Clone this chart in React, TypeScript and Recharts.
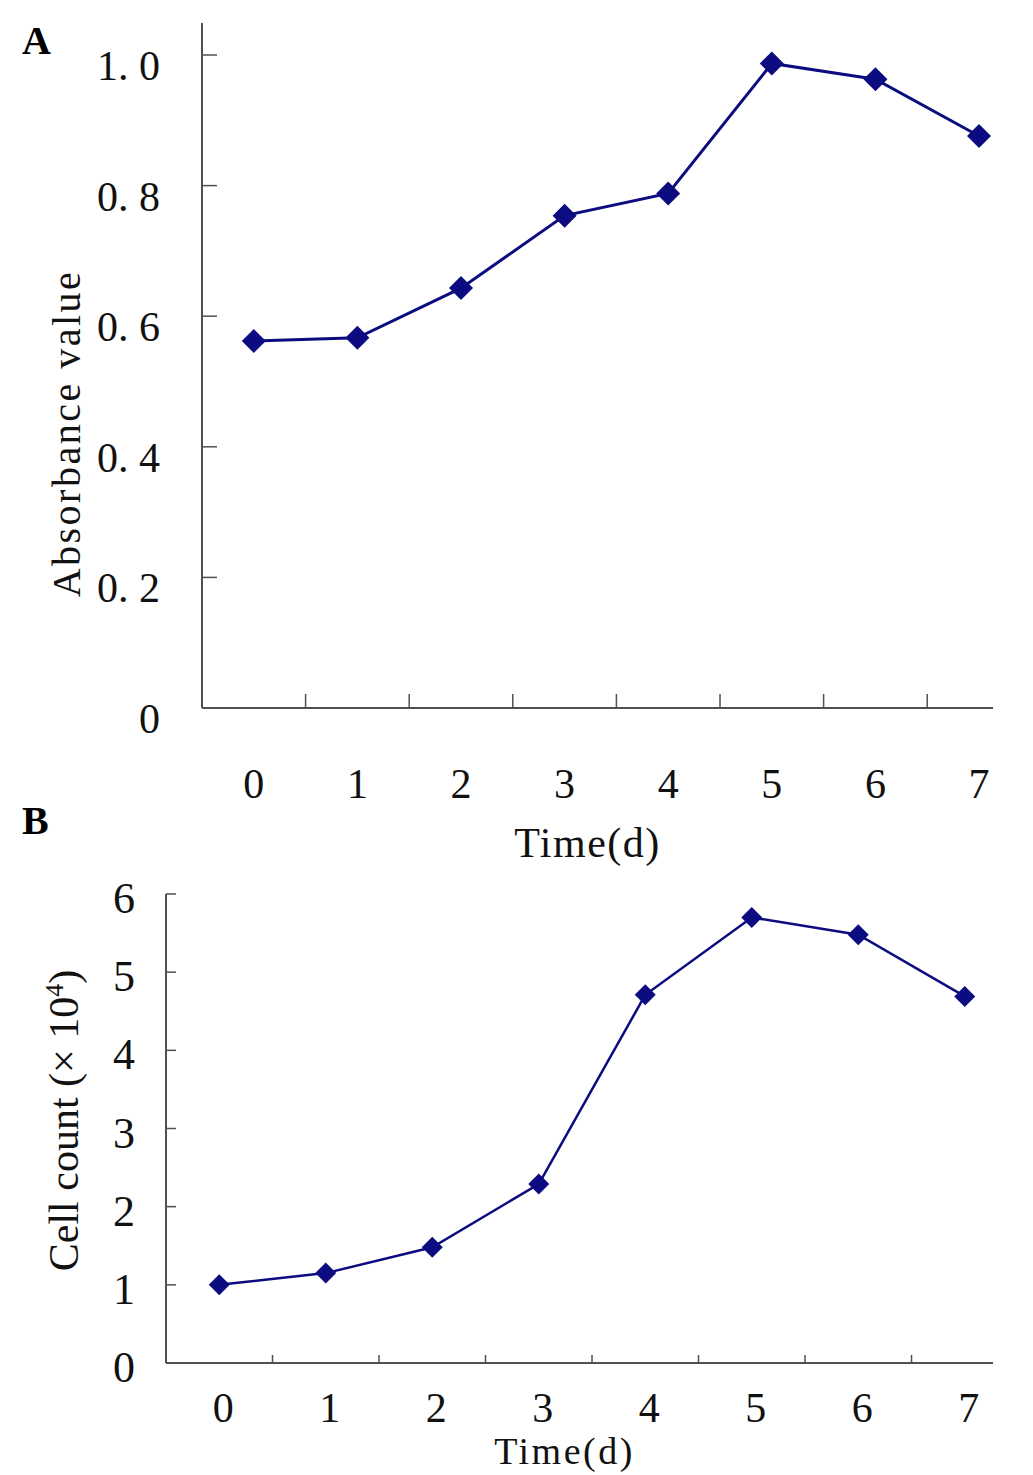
import React from 'react';
import { Label, Line, LineChart, XAxis, YAxis } from 'recharts';

// day index on the x axis
const days = [0, 1, 2, 3, 4, 5, 6, 7];
// panel A: absorbance value per day
const absorbance = [0.562, 0.567, 0.643, 0.754, 0.788, 0.987, 0.963, 0.876];
// panel B: cell count (x10^4) per day
const cellCount = [1.0, 1.15, 1.48, 2.29, 4.71, 5.7, 5.48, 4.69];

const yTicksA = [0, 0.2, 0.4, 0.6, 0.8, 1.0];
const yLabelsA = ['0', '0. 2', '0. 4', '0. 6', '0. 8', '1. 0'];
const yTicksB = [0, 1, 2, 3, 4, 5, 6];
// tick marks sit between the day labels
const between = days.slice(1).map((d) => d - 0.5);

const NAVY = '#0c0c80';
const AXIS = '#505050';
const FONT = '"Liberation Serif", "Times New Roman", serif';

const dataA = days.map((d, i) => ({ day: d, absorbance: absorbance[i] }));
const dataB = days.map((d, i) => ({ day: d, count: cellCount[i] }));

const diamond = (half: number) => (p: any) => {
  const { cx, cy, index } = p;
  if (cx == null || cy == null) return <g key={`d-${index}`} />;
  return (
    <polygon
      key={`d-${index}`}
      points={`${cx},${cy - half} ${cx + half},${cy} ${cx},${cy + half} ${cx - half},${cy}`}
      fill={NAVY}
    />
  );
};

// ---- panel A ticks ----
function YTickA(props: any) {
  const { x, y, payload } = props;
  const i = yTicksA.indexOf(payload.value);
  return (
    <g>
      <line x1={x} y1={y} x2={x + 15} y2={y} stroke={AXIS} strokeWidth={1.5} />
      <text x={x - 42} y={y + 25} textAnchor="end" fontSize={42} fill="#111" fontFamily={FONT}>
        {yLabelsA[i]}
      </text>
    </g>
  );
}

function XTickA(props: any) {
  const { x, y, payload } = props;
  if (!Number.isInteger(payload.value)) {
    return <line x1={x} y1={y} x2={x} y2={y - 14} stroke={AXIS} strokeWidth={1.5} />;
  }
  return (
    <text x={x} y={y + 90} textAnchor="middle" fontSize={42} fill="#111" fontFamily={FONT}>
      {payload.value}
    </text>
  );
}

// ---- panel B ticks ----
function YTickB(props: any) {
  const { x, y, payload } = props;
  return (
    <g>
      <line x1={x} y1={y} x2={x + 10} y2={y} stroke={AXIS} strokeWidth={1.5} />
      <text x={x - 31} y={y + 19} textAnchor="end" fontSize={44} fill="#111" fontFamily={FONT}>
        {payload.value}
      </text>
    </g>
  );
}

function XTickB(props: any) {
  const { x, y, payload } = props;
  if (!Number.isInteger(payload.value)) {
    return <line x1={x} y1={y} x2={x} y2={y - 8} stroke={AXIS} strokeWidth={1.5} />;
  }
  return (
    <text x={x + 4} y={y + 59} textAnchor="middle" fontSize={42} fill="#111" fontFamily={FONT}>
      {payload.value}
    </text>
  );
}

export default function App() {
  return (
    <div
      style={{
        position: 'absolute',
        left: 0,
        top: 0,
        width: 1033,
        height: 1475,
        background: '#fff',
        fontFamily: FONT,
      }}
    >
      <div style={{ position: 'absolute', left: 22, top: 21, fontSize: 40, fontWeight: 'bold', lineHeight: '40px' }}>
        A
      </div>
      <div style={{ position: 'absolute', left: 22, top: 801, fontSize: 40, fontWeight: 'bold', lineHeight: '40px' }}>
        B
      </div>

      <div style={{ position: 'absolute', left: 0, top: 0 }}>
        <LineChart width={1033} height={870} data={dataA} margin={{ top: 23, right: 40, bottom: 0, left: 0 }}>
          <XAxis
            dataKey="day"
            type="number"
            domain={[-0.5, 7.135]}
            allowDataOverflow
            ticks={[...days, ...between]}
            interval={0}
            height={162}
            tickSize={0}
            tickMargin={0}
            tickLine={false}
            tick={<XTickA />}
            axisLine={{ stroke: AXIS, strokeWidth: 2 }}
          >
            <Label
              content={({ viewBox }: any) => (
                <text
                  x={viewBox.x + viewBox.width / 2 - 10}
                  y={viewBox.y + 149}
                  textAnchor="middle"
                  fontSize={42}
                  letterSpacing={1.5}
                  fill="#111"
                  fontFamily={FONT}
                >
                  Time(d)
                </text>
              )}
            />
          </XAxis>
          <YAxis
            type="number"
            domain={[0, 1.049]}
            allowDataOverflow
            ticks={yTicksA}
            interval={0}
            width={202}
            tickSize={0}
            tickMargin={0}
            tickLine={false}
            tick={<YTickA />}
            axisLine={{ stroke: AXIS, strokeWidth: 2 }}
          >
            <Label
              content={({ viewBox }: any) => {
                const x = viewBox.x + 80;
                const y = viewBox.y + viewBox.height / 2 + 68;
                return (
                  <text
                    x={x}
                    y={y}
                    transform={`rotate(-90, ${x}, ${y})`}
                    textAnchor="middle"
                    fontSize={40}
                    letterSpacing={2.5}
                    fill="#111"
                    fontFamily={FONT}
                  >
                    Absorbance value
                  </text>
                );
              }}
            />
          </YAxis>
          <Line
            type="linear"
            dataKey="absorbance"
            stroke={NAVY}
            strokeWidth={3}
            dot={diamond(12)}
            activeDot={false}
            isAnimationActive={false}
          />
        </LineChart>
      </div>

      <div style={{ position: 'absolute', left: 0, top: 870 }}>
        <LineChart width={1033} height={605} data={dataB} margin={{ top: 24, right: 40, bottom: 0, left: 0 }}>
          <XAxis
            dataKey="day"
            type="number"
            domain={[-0.5, 7.265]}
            allowDataOverflow
            ticks={[...days, ...between]}
            interval={0}
            height={112}
            tickSize={0}
            tickMargin={0}
            tickLine={false}
            tick={<XTickB />}
            axisLine={{ stroke: AXIS, strokeWidth: 2 }}
          >
            <Label
              content={({ viewBox }: any) => (
                <text
                  x={viewBox.x + viewBox.width / 2 - 15}
                  y={viewBox.y + 101}
                  textAnchor="middle"
                  fontSize={38}
                  letterSpacing={2.5}
                  fill="#111"
                  fontFamily={FONT}
                >
                  Time(d)
                </text>
              )}
            />
          </XAxis>
          <YAxis
            type="number"
            domain={[0, 6]}
            ticks={yTicksB}
            interval={0}
            width={166}
            tickSize={0}
            tickMargin={0}
            tickLine={false}
            tick={<YTickB />}
            axisLine={{ stroke: AXIS, strokeWidth: 2 }}
          >
            <Label
              content={({ viewBox }: any) => {
                const x = viewBox.x + 78;
                const y = viewBox.y + viewBox.height / 2 - 8;
                return (
                  <text
                    x={x}
                    y={y}
                    transform={`rotate(-90, ${x}, ${y})`}
                    textAnchor="middle"
                    fontSize={42}
                    fill="#111"
                    fontFamily={FONT}
                  >
                    Cell count (× 10
                    <tspan fontSize={26} dy={-15}>4</tspan>
                    <tspan dy={15}>)</tspan>
                  </text>
                );
              }}
            />
          </YAxis>
          <Line
            type="linear"
            dataKey="count"
            stroke={NAVY}
            strokeWidth={2.5}
            dot={diamond(10.5)}
            activeDot={false}
            isAnimationActive={false}
          />
        </LineChart>
      </div>
    </div>
  );
}
